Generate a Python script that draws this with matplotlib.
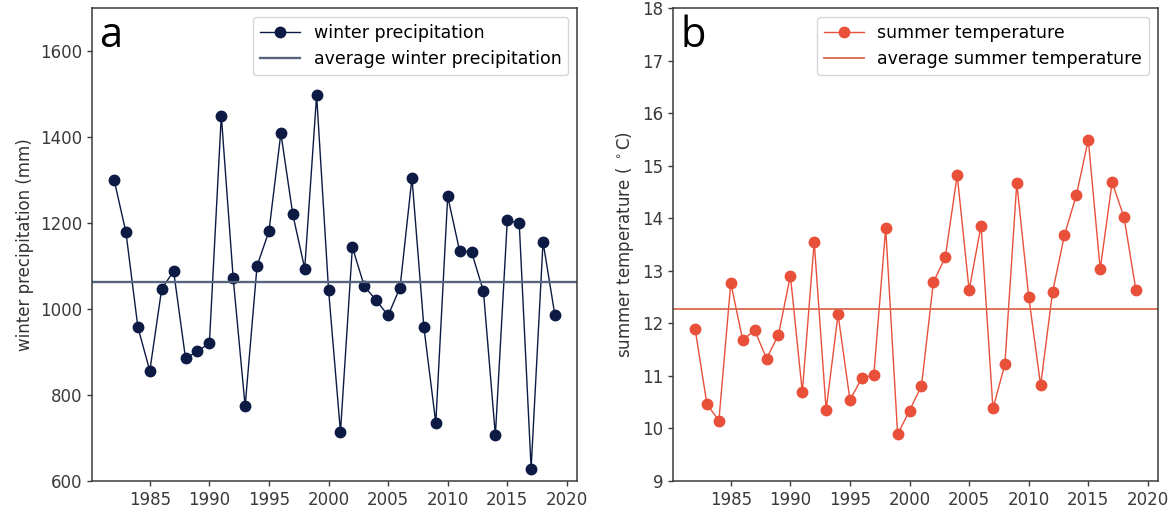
import matplotlib
matplotlib.use("Agg")
import matplotlib.pyplot as plt
import numpy as np

years = list(range(1982, 2020))

winter_precip = [1301, 1178, 958, 856, 1047, 1088, 885, 902, 920, 1450,
                 1071, 774, 1100, 1181, 1409, 1220, 1094, 1497, 1045, 714,
                 1144, 1053, 1020, 985, 1050, 1305, 958, 735, 1262, 1135,
                 1133, 1041, 706, 1206, 1200, 629, 1156, 985]

summer_temp = [11.90, 10.46, 10.15, 12.77, 11.68, 11.87, 11.33, 11.78, 12.91, 10.69,
               13.55, 10.35, 12.17, 10.54, 10.96, 11.02, 13.81, 9.89, 10.34, 10.81,
               12.78, 13.26, 14.82, 12.63, 13.86, 10.38, 11.22, 14.67, 12.51, 10.82,
               12.59, 13.68, 14.44, 15.49, 13.03, 14.68, 14.02, 12.63]

winter_avg = 1063
summer_avg = 12.27

x_ticks = [1985, 1990, 1995, 2000, 2005, 2010, 2015, 2020]

W, H = 1173, 517
fig = plt.figure(figsize=(W / 100, H / 100), dpi=100)

spine_col = '#3a3a3a'
FS = 12
LFS = 12.5

def style(ax):
    for s in ax.spines.values():
        s.set_color(spine_col)
        s.set_linewidth(1.1)
    ax.tick_params(colors='#3a3a3a', labelsize=FS, width=1.0, length=3.5)

top, bot = 8, 481
ax1 = fig.add_axes([92 / W, 1 - bot / H, (577 - 92) / W, (bot - top) / H])
navy = '#0c1a44'
ax1.plot(years, winter_precip, '-o', color=navy, markersize=7.5, linewidth=1.0,
         label='winter precipitation')
ax1.axhline(winter_avg, color='#58657e', linewidth=1.7,
            label='average winter precipitation')
ax1.set_ylim(600, 1700)
ax1.set_yticks([600, 800, 1000, 1200, 1400, 1600])
ax1.set_xticks(x_ticks)
ax1.set_ylabel('winter precipitation (mm)', fontsize=FS, color='#333333')
ax1.legend(loc='upper right', fontsize=LFS, framealpha=0.8, handlelength=2.3)
ax1.text(0.015, 0.985, 'a', transform=ax1.transAxes, fontsize=30,
         family='Open Sans', va='top', ha='left', color='black')
style(ax1)

ax2 = fig.add_axes([673 / W, 1 - bot / H, (1158 - 673) / W, (bot - top) / H])
red = '#e8503a'
ax2.plot(years, summer_temp, '-o', color=red, markersize=7.5, linewidth=1.0,
         label='summer temperature')
ax2.axhline(summer_avg, color='#d9694f', linewidth=1.3,
            label='average summer temperature')
ax2.set_ylim(9, 18)
ax2.set_yticks(list(range(9, 19)))
ax2.set_xticks(x_ticks)
ax2.set_ylabel(r'summer temperature ( $^\circ$C)', fontsize=FS, color='#333333')
ax2.legend(loc='upper right', fontsize=LFS, framealpha=0.8, handlelength=2.3)
ax2.text(0.015, 0.985, 'b', transform=ax2.transAxes, fontsize=30,
         family='Open Sans', va='top', ha='left', color='black')
style(ax2)

fig.savefig('out.png', dpi=100)
